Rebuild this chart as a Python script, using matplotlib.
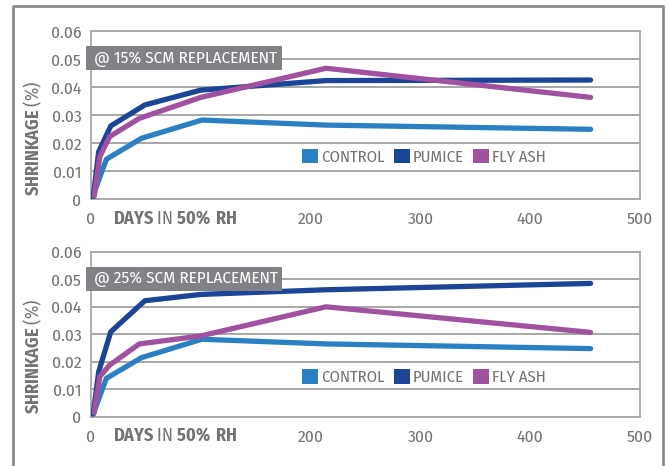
import matplotlib
matplotlib.use("Agg")
import matplotlib.pyplot as plt
from matplotlib import font_manager
from matplotlib.patches import Patch, Rectangle
from matplotlib.lines import Line2D

names = {f.name for f in font_manager.fontManager.ttflist}
narrow = 'DejaVu Sans'
for cand in ['Fira Sans Condensed', 'PT Sans Narrow', 'Roboto Condensed', 'Liberation Sans Narrow']:
    if cand in names:
        narrow = cand
        break
plt.rcParams['font.family'] = [narrow, 'DejaVu Sans']
plt.rcParams['mathtext.fontset'] = 'custom'
plt.rcParams['mathtext.rm'] = narrow
plt.rcParams['mathtext.bf'] = narrow + ':bold'

# ---------------- data ----------------
series_names = ["CONTROL", "PUMICE", "FLY ASH"]
days_control = [2, 14, 46, 101, 214, 455]
days_pumice = [2, 7, 18, 49, 100, 214, 455]
days_flyash = [3, 8, 17, 44, 100, 214, 455]

control_15 = [0.0015, 0.0143, 0.0218, 0.0283, 0.0265, 0.0250]
pumice_15 = [0.0008, 0.0170, 0.0262, 0.0337, 0.0390, 0.0424, 0.0426]
flyash_15 = [0.0012, 0.0152, 0.0224, 0.0289, 0.0364, 0.0468, 0.0364]

control_25 = [0.0010, 0.0140, 0.0215, 0.0282, 0.0265, 0.0248]
pumice_25 = [0.0010, 0.0164, 0.0309, 0.0422, 0.0445, 0.0462, 0.0485]
flyash_25 = [0.0015, 0.0146, 0.0188, 0.0265, 0.0294, 0.0400, 0.0307]

panel_titles = ["@ 15% SCM REPLACEMENT", "@ 25% SCM REPLACEMENT"]
x_ticks = [0, 200, 300, 400, 500]
y_ticks = [0, 0.01, 0.02, 0.03, 0.04, 0.05, 0.06]
y_ticklabels = ["0", "0.01", "0.02", "0.03", "0.04", "0.05", "0.06"]

colors = ["#2b7fc3", "#1b4597", "#a052a0"]
grey_txt = "#737373"

W, H = 667, 466
fig = plt.figure(figsize=(W / 100, H / 100), dpi=100)

# outer frame (open at bottom)
frame_c = "#8c8c8c"
fig.add_artist(Line2D([13 / W, 13 / W, 663 / W, 663 / W],
                      [0, 1 - 6 / H, 1 - 6 / H, 0],
                      transform=fig.transFigure, color=frame_c, lw=2.0))

panels = [
    dict(top=31.3, bottom=199.3, data=(control_15, pumice_15, flyash_15), title=panel_titles[0]),
    dict(top=251.8, bottom=416.8, data=(control_25, pumice_25, flyash_25), title=panel_titles[1]),
]
left_px, right_px = 91, 640

for p in panels:
    hpx = p['bottom'] - p['top']
    ax = fig.add_axes([left_px / W, 1 - p['bottom'] / H,
                       (right_px - left_px) / W, hpx / H])
    ax.set_xlim(0, 500)
    ax.set_ylim(0, 0.06)
    for d, vals, c in zip((days_control, days_pumice, days_flyash), p['data'], colors):
        ax.plot(d, vals, color=c, lw=3.8, solid_capstyle='round',
                solid_joinstyle='round', zorder=3)
    ax.set_yticks(y_ticks)
    ax.set_yticklabels(y_ticklabels)
    ax.set_xticks(x_ticks)
    ax.set_xticklabels([str(t) for t in x_ticks])
    ax.tick_params(length=0, colors=grey_txt, labelsize=12.5)
    ax.tick_params(axis='y', pad=7)
    ax.tick_params(axis='x', pad=9)
    ax.yaxis.grid(True, color="#a0a0a0", lw=1.3)
    ax.set_axisbelow(True)
    for s in ax.spines.values():
        s.set_color("#a8a8a8")
        s.set_linewidth(1.3)
    # y label
    ax.set_ylabel(r"$\mathbf{SHRINKAGE}$ (%)", color=grey_txt, fontsize=13)
    ax.yaxis.set_label_coords((44 - left_px) / (right_px - left_px), 0.365)
    # x label (in place of the 100 tick)
    ax.text(113 / W, 1 - (p['bottom'] + 19) / H, r"$\mathbf{DAYS}$ IN $\mathbf{50\%\ RH}$",
            color=grey_txt, fontsize=13, ha='left', va='center', transform=fig.transFigure)
    # legend
    handles = [Patch(facecolor=c, edgecolor='none') for c in colors]
    ax.legend(handles, series_names, loc='center left',
              bbox_to_anchor=((302 - left_px) / (right_px - left_px), (p['bottom'] - (p['top'] + 125.5)) / hpx),
              ncol=3, frameon=False, handlelength=0.95, handleheight=0.95,
              handletextpad=0.2, columnspacing=0.55, borderpad=0, borderaxespad=0,
              fontsize=12, labelcolor=grey_txt)
    # title box
    ty = p['top'] + 15
    fig.add_artist(Rectangle((86 / W, 1 - (ty + 24) / H), 196 / W, 24 / H,
                             transform=fig.transFigure, facecolor="#808285",
                             edgecolor='none', zorder=5))
    fig.text(94 / W, 1 - (ty + 12.5) / H, p['title'], color='white', fontsize=12.3,
             ha='left', va='center', zorder=6)

fig.savefig("out.png", dpi=100)
